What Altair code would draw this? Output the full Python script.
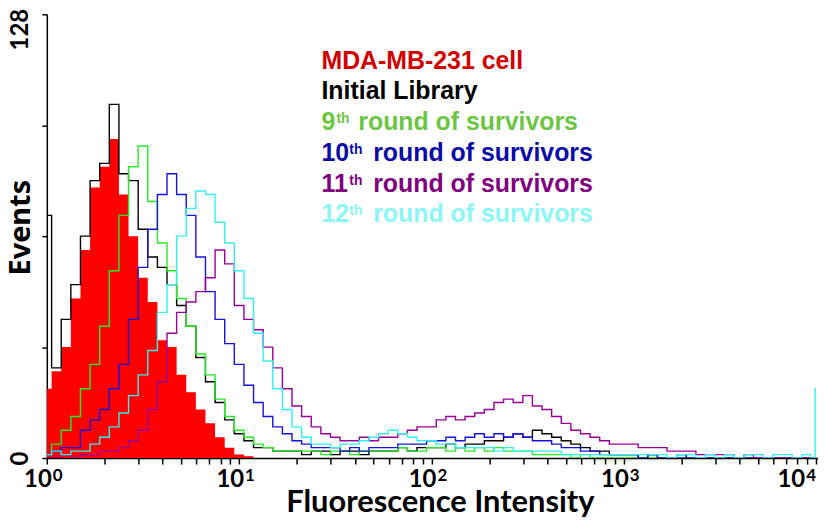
import math
import altair as alt
import pandas as pd

# channel positions (log10 of fluorescence intensity)
log_channel = [
    0.00, 0.05, 0.10, 0.15, 0.20, 0.25, 0.30, 0.35, 0.40, 0.45,
    0.50, 0.55, 0.60, 0.65, 0.70, 0.75, 0.80, 0.85, 0.90, 0.95,
    1.00, 1.05, 1.10, 1.15, 1.20, 1.25, 1.30, 1.35, 1.40, 1.45,
    1.50, 1.55, 1.60, 1.65, 1.70, 1.75, 1.80, 1.85, 1.90, 1.95,
    2.00, 2.05, 2.10, 2.15, 2.20, 2.25, 2.30, 2.35, 2.40, 2.45,
    2.50, 2.55, 2.60, 2.65, 2.70, 2.75, 2.80, 2.85, 2.90, 2.95,
    3.00, 3.05, 3.10, 3.15, 3.20, 3.25, 3.30, 3.35, 3.40, 3.45,
    3.50, 3.55, 3.60, 3.65, 3.70, 3.75, 3.80, 3.85, 3.90, 3.95,
    3.99, 4.00,
]

mda_cell = [
    20, 25, 32, 46, 60, 78, 84, 92, 76, 64,
    52, 45, 34, 32, 24, 19, 14, 10, 6, 3,
    1, 0.5, 0, 0, 0, 0, 0, 0, 0, 0,
    0, 0, 0, 0, 0, 0, 0, 0, 0, 0,
    0, 0, 0, 0, 0, 0, 0, 0, 0, 0,
    0, 0, 0, 0, 0, 0, 0, 0, 0, 0,
    0, 0, 0, 0, 0, 0, 0, 0, 0, 0,
    0, 0, 0, 0, 0, 0, 0, 0, 0, 0,
    0, 0,
]
initial_library = [
    70, 26, 40, 50, 64, 80, 85, 102, 82, 80,
    66, 58, 55, 50, 44, 38, 29, 22, 16, 11,
    7, 5, 3, 3, 2, 2, 2, 1, 2, 2,
    1, 2, 2, 1, 2, 2, 2, 3, 2, 3,
    3, 3, 4, 3, 4, 4, 5, 5, 6, 7,
    6, 8, 7, 6, 5, 4, 3, 2, 2, 1,
    1, 1, 0, 1, 0, 0, 1, 0, 0, 0,
    0, 0, 0, 0, 0, 0, 0, 0, 0, 0,
    0, 0,
]
round9 = [
    1, 4, 8, 12, 20, 27, 38, 54, 70, 84,
    90, 74, 62, 54, 46, 38, 30, 24, 17, 12,
    8, 6, 4, 3, 2, 2, 2, 2, 2, 1,
    2, 2, 1, 2, 2, 2, 2, 3, 2, 2,
    3, 3, 2, 3, 2, 3, 2, 3, 2, 2,
    2, 1, 1, 1, 1, 0, 1, 0, 0, 0,
    0, 0, 0, 0, 0, 0, 0, 0, 0, 0,
    0, 0, 0, 0, 0, 0, 0, 0, 0, 0,
    0, 0,
]
round10 = [
    1, 2, 3, 3, 8, 11, 14, 20, 27, 40,
    55, 66, 76, 82, 76, 70, 58, 48, 40, 33,
    27, 21, 16, 12, 9, 7, 5, 4, 3, 3,
    3, 2, 3, 2, 3, 3, 3, 4, 4, 4,
    5, 5, 6, 5, 6, 7, 6, 7, 6, 7,
    6, 5, 5, 4, 3, 3, 2, 2, 1, 1,
    1, 1, 0, 1, 0, 0, 0, 0, 0, 0,
    0, 0, 0, 0, 0, 0, 0, 0, 0, 0,
    0, 0,
]
round11 = [
    0, 0, 1, 0, 1, 1, 2, 2, 3, 5,
    8, 14, 22, 36, 42, 45, 48, 52, 60, 56,
    44, 40, 37, 32, 26, 20, 15, 12, 9, 7,
    6, 5, 5, 6, 5, 6, 6, 7, 8, 9,
    9, 11, 12, 11, 12, 13, 14, 16, 17, 16,
    18, 15, 14, 12, 10, 8, 7, 6, 5, 4,
    4, 4, 3, 3, 3, 2, 2, 2, 1, 1,
    1, 1, 0, 1, 0, 0, 0, 0, 0, 0,
    0, 0,
]
round12 = [
    1, 2, 1, 2, 2, 4, 6, 9, 13, 18,
    24, 31, 42, 50, 64, 72, 77, 76, 68, 62,
    54, 46, 36, 28, 20, 14, 9, 6, 4, 4,
    3, 4, 4, 5, 6, 7, 8, 7, 6, 5,
    5, 4, 4, 3, 3, 3, 3, 2, 3, 2,
    2, 2, 2, 2, 1, 1, 1, 1, 1, 1,
    1, 1, 1, 1, 1, 0, 1, 1, 0, 1,
    0, 1, 0, 1, 1, 0, 1, 1, 0, 1,
    0, 20,
]

series_names = ["MDA-MB-231 cell", "Initial Library", "9th round of survivors",
                "10th round of survivors", "11th round of survivors", "12th round of survivors"]
series_values = [mda_cell, initial_library, round9, round10, round11, round12]
line_colors = ["#ff0000", "#000000", "#22ee22", "#1414dc", "#990099", "#33f0f0"]

for v in series_values:
    assert len(v) == len(log_channel), len(v)

rows = []
for name, vals in zip(series_names, series_values):
    for lx, ev in zip(log_channel, vals):
        rows.append({"series": name, "log": lx, "events": ev})
df = pd.DataFrame(rows)

x_major = [0, 1, 2, 3, 4]
x_tick_base = "10"
x_tick_exp = ["0", "1", "2", "3", "4"]
x_minor = [d + math.log10(k) for d in range(4) for k in range(2, 10)]

y_ticks = [0, 32, 64, 96, 128]

x_enc = alt.X(
    "log:Q",
    scale=alt.Scale(domain=[0, 4.01], nice=False, zero=False),
    axis=alt.Axis(
        values=x_major + x_minor,
        labels=False,
        title="Fluorescence Intensity",
        titleFont="Lato", titleFontSize=31, titleFontWeight="bold", titleColor="black",
        titleBaseline="alphabetic", titleAlign="center", titleX=395, titleY=54,
        tickSize=6, tickWidth=1.5, tickColor="black",
        domainColor="black", domainWidth=1.5, grid=False,
    ),
)
y_enc = alt.Y(
    "events:Q",
    scale=alt.Scale(domain=[0, 128], nice=False, zero=True),
    axis=alt.Axis(
        values=y_ticks,
        labelExpr="datum.value == 0 || datum.value == 128 ? datum.label : ''",
        title="Events",
        titleFont="Noto Sans", titleFontSize=29, titleFontWeight="bold", titleColor="black",
        titleAngle=270, titleAlign="center", titleBaseline="alphabetic",
        titleX=-17, titleY=214,
        labelFont="Lato", labelFontSize=24, labelFontWeight="bold", labelColor="black",
        labelAngle=270, labelAlign="center", labelBaseline="alphabetic",
        labelPadding=14, labelOverlap=False, labelBound=False,
        labelOffset={"condition": {"test": "datum.value == 128", "value": 15}, "value": 0},
        tickSize=5, tickWidth=1.5, tickColor="black",
        domainColor="black", domainWidth=1.5, grid=False,
    ),
)

layers = []
red = alt.Chart(df[df.series == series_names[0]]).mark_area(
    interpolate="step", color=line_colors[0], clip=True
).encode(x=x_enc, y=y_enc)
layers.append(red)
for name, col in zip(series_names[1:], line_colors[1:]):
    layers.append(
        alt.Chart(df[df.series == name]).mark_line(
            interpolate="step", color=col, strokeWidth=1.4, clip=True
        ).encode(x=x_enc, y=y_enc)
    )

# x tick labels: "10" with a raised exponent
ticks_df = pd.DataFrame({"log": x_major, "base": [x_tick_base] * len(x_major), "exp": x_tick_exp})
inner = ticks_df[ticks_df.log < 4]
last = ticks_df[ticks_df.log == 4]
for sub, dxb in ((inner, 5), (last, -11)):
    layers.append(
        alt.Chart(sub).mark_text(
            align="right", baseline="alphabetic", font="Lato", fontWeight="bold",
            fontSize=24, color="black", dx=dxb,
        ).encode(x=x_enc, y=alt.value(475), text="base:N")
    )
    layers.append(
        alt.Chart(sub).mark_text(
            align="left", baseline="alphabetic", font="Lato", fontWeight="bold",
            fontSize=17, color="black", dx=dxb + 1,
        ).encode(x=x_enc, y=alt.value(469), text="exp:N")
    )

# legend text (manual, as in the figure)
legend_colors = ["#d00000", "#000000", "#6cc644", "#0a0aa8", "#800080", "#8cf5f5"]
legend_main = ["MDA-MB-231 cell", "Initial Library", "9", "10", "11", "12"]
legend_rest = ["", "", "round of survivors", "round of survivors",
               "round of survivors", "round of survivors"]
row_y = [55, 85, 116, 147, 179, 209]


def txt(label, x, y, size, color):
    return alt.Chart(pd.DataFrame({"t": [label]})).mark_text(
        align="left", baseline="alphabetic", font="Liberation Sans",
        fontWeight="bold", fontSize=size, color=color,
    ).encode(text="t:N", x=alt.value(x), y=alt.value(y))


for m, r, c, yy in zip(legend_main, legend_rest, legend_colors, row_y):
    layers.append(txt(m, 276, yy, 25, c))
    if r:
        th_x = 291 if len(m) == 1 else 304
        rest_x = 313 if len(m) == 1 else 328
        layers.append(txt("th", th_x, yy - 7, 14, c))
        layers.append(txt(r, rest_x, yy, 25, c))

chart = alt.layer(*layers).properties(
    width=775, height=446,
    padding={"left": 39, "top": 5, "right": 0, "bottom": 60},
    autosize=alt.AutoSizeParams(type="none"),
    background="white",
).configure_view(stroke=None)

chart.save("out.html", embed_options={"renderer": "svg", "actions": False})
